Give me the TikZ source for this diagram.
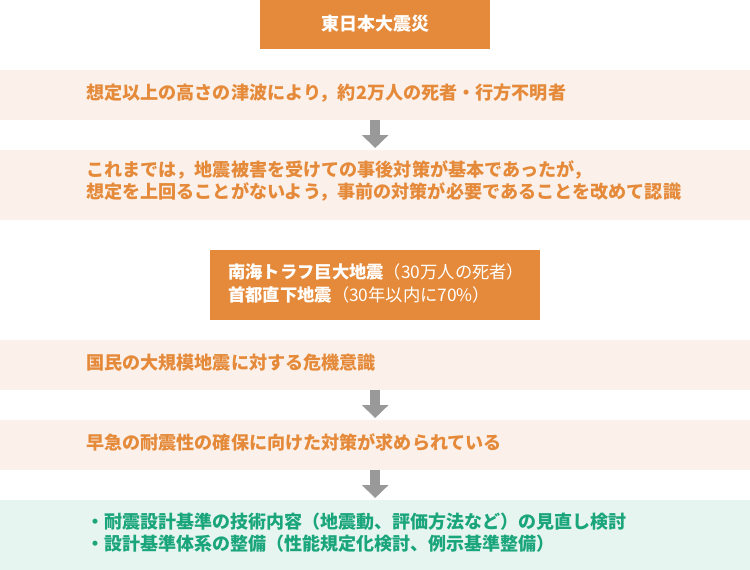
\documentclass[tikz,border=0pt]{standalone}
\usepackage{fontspec}
\setmainfont{Noto Sans CJK JP}
\usetikzlibrary{arrows.meta}
\definecolor{org}{HTML}{E58A3A}
\definecolor{bandc}{HTML}{FBF1EA}
\definecolor{greenbg}{HTML}{E6F5F0}
\definecolor{greentx}{HTML}{1AA57A}
\definecolor{arrowc}{HTML}{999999}
\tikzset{
  band/.style={fill=bandc, draw=none, minimum width=750pt, inner sep=0pt, anchor=north west},
  obox/.style={fill=org, draw=none, inner sep=0pt},
  btext/.style={anchor=west, inner sep=0pt, align=left, text=org, font=\fontsize{18.1}{22}\selectfont\bfseries},
  gtext/.style={anchor=west, inner sep=0pt, align=left, text=greentx, font=\fontsize{18}{22}\selectfont\bfseries},
  wtext/.style={anchor=west, inner sep=0pt, align=left, text=white, font=\fontsize{17.3}{23}\selectfont},
  flow/.style={draw=arrowc, line width=10pt, -{Triangle[width=26pt,length=13pt]}, shorten >=2pt}
}
\begin{document}
\begin{tikzpicture}[x=1pt,y=-1pt]
\useasboundingbox (0,0) rectangle (750,570);
% top box
\node[obox, minimum width=230pt, minimum height=50pt, text=white, font=\fontsize{18}{22}\selectfont\bfseries] (top) at (375,24) {東日本大震災};
% band 1
\node[band, minimum height=50pt] (b1) at (0,70) {};
\node[btext] (t1) at (86,93) {想定以上の高さの津波により，約2万人の死者・行方不明者};
% band 2
\node[band, minimum height=70pt] (b2) at (0,150) {};
\node[btext] (t2) at (86,181) {これまでは，地震被害を受けての事後対策が基本であったが，\\想定を上回ることがないよう，事前の対策が必要であることを改めて認識};
% orange box 2
\node[obox, minimum width=330pt, minimum height=70pt] (mid) at (375,285) {};
\node[wtext] (tm) at (228,283.5) {{\bfseries 南海トラフ巨大地震}（30万人の死者）\\{\bfseries 首都直下地震}（30年以内に70\%）};
% band 3
\node[band, minimum height=50pt] (b3) at (0,340) {};
\node[btext] (t3) at (86,363) {国民の大規模地震に対する危機意識};
% band 4
\node[band, minimum height=50pt] (b4) at (0,420) {};
\node[btext] (t4) at (86,442) {早急の耐震性の確保に向けた対策が求められている};
% green band
\node[band, fill=greenbg, minimum height=70pt] (g) at (0,500) {};
\node[gtext] (tg) at (86,533) {・耐震設計基準の技術内容（地震動、評価方法など）の見直し検討\\・設計基準体系の整備（性能規定化検討、例示基準整備）};
% arrows
\draw[flow] (b1.south) -- (b2.north);
\draw[flow] (b3.south) -- (b4.north);
\draw[flow] (b4.south) -- (g.north);
\end{tikzpicture}
\end{document}
